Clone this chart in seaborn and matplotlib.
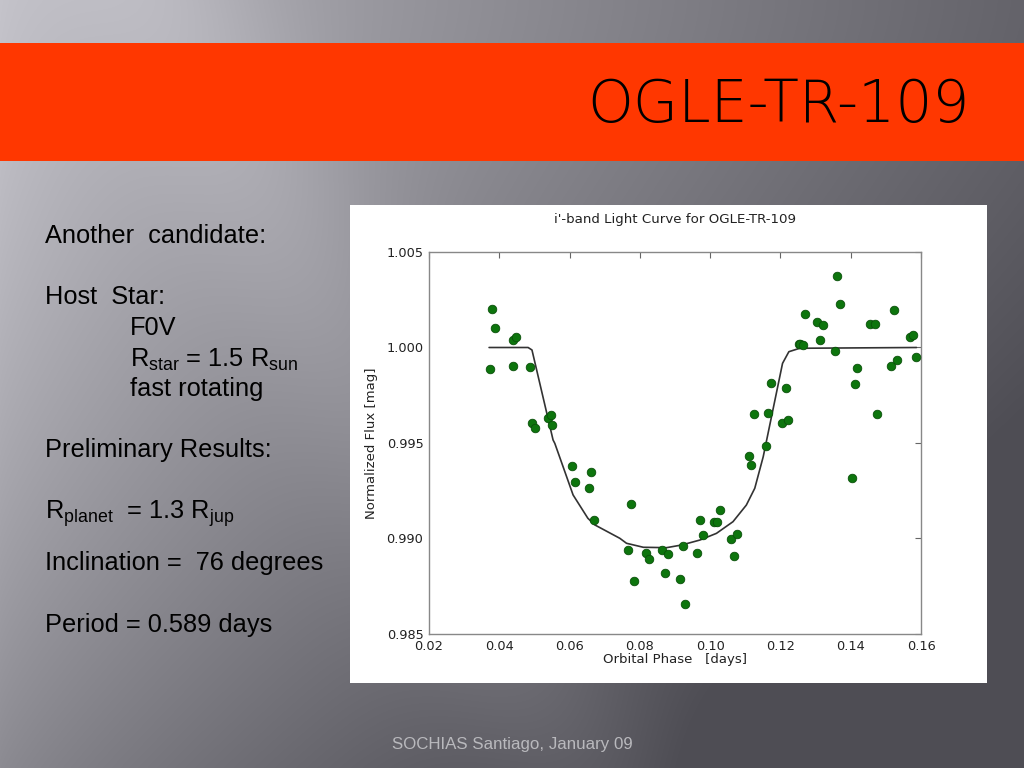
import numpy as np
import pandas as pd
import matplotlib
matplotlib.use('Agg')
import matplotlib.pyplot as plt
import seaborn as sns
from matplotlib.patches import Rectangle

# ---- data ----
phase = [0.0374, 0.0378, 0.0389, 0.0439, 0.0439, 0.0448, 0.0487, 0.0493, 0.0502,
         0.0539, 0.0547, 0.0550, 0.0607, 0.0615, 0.0661, 0.0655, 0.0669,
         0.0774, 0.0767, 0.0783, 0.0817, 0.0825, 0.0864, 0.0872, 0.0881, 0.0914,
         0.0922, 0.0929, 0.0962, 0.0971, 0.0979, 0.1012, 0.1019, 0.1028, 0.1060,
         0.1069, 0.1076, 0.1111, 0.1116, 0.1159,
         0.1125, 0.1166, 0.1173, 0.1216, 0.1205, 0.1222, 0.1253,
         0.1257, 0.1263, 0.1269, 0.1304, 0.1320, 0.1313, 0.1354, 0.1361, 0.1370,
         0.1418, 0.1411, 0.1404, 0.1475, 0.1456, 0.1469, 0.1524, 0.1514, 0.1532,
         0.1570, 0.1578, 0.1587]
flux = [0.99887, 1.00202, 1.00102, 0.99903, 1.00039, 1.00055, 0.99898, 0.99605, 0.99579,
        0.99631, 0.99647, 0.99594, 0.99380, 0.99296, 0.99348, 0.99264, 0.99097,
        0.99181, 0.98940, 0.98779, 0.98922, 0.98893, 0.98940, 0.98818, 0.98917, 0.98788,
        0.98961, 0.98656, 0.98926, 0.99097, 0.99017, 0.99085, 0.99085, 0.99148, 0.98997,
        0.98910, 0.99025, 0.99432, 0.99385, 0.99486,
        0.99652, 0.99657, 0.99814, 0.99786, 0.99603, 0.99622, 1.00020,
        1.00020, 1.00015, 1.00177, 1.00136, 1.00120, 1.00039, 0.99982, 1.00374, 1.00228,
        0.99894, 0.99810, 0.99317, 0.99652, 1.00123, 1.00123, 1.00198, 0.99903, 0.99933,
        1.00053, 1.00065, 0.99949]

model_phase = [0.0371, 0.0482, 0.0493, 0.0553, 0.0558, 0.0610, 0.0652, 0.0672, 0.0743,
               0.0762, 0.0810, 0.0876, 0.0919, 0.0971, 0.1018, 0.1065, 0.1103, 0.1127,
               0.1151, 0.1206, 0.1224, 0.1255, 0.1587]
model_flux = [1.0000, 1.0000, 0.99987, 0.99516, 0.99498, 0.99228, 0.99106, 0.99071, 0.99001,
              0.98975, 0.98954, 0.98952, 0.98966, 0.98992, 0.99027, 0.99088, 0.99175, 0.99263,
              0.99428, 0.99917, 0.99978, 0.99996, 1.0000]

x_ticks = [0.02, 0.04, 0.06, 0.08, 0.10, 0.12, 0.14, 0.16]
x_ticklabels = ['0.02', '0.04', '0.06', '0.08', '0.10', '0.12', '0.14', '0.16']
y_ticks = [0.985, 0.990, 0.995, 1.000, 1.005]
y_ticklabels = ['0.985', '0.990', '0.995', '1.000', '1.005']

slide_title = 'OGLE-TR-109'
chart_title = "i'-band Light Curve for OGLE-TR-109"
x_label = 'Orbital Phase   [days]'
y_label = 'Normalized Flux [mag]'
footer = 'SOCHIAS Santiago, January 09'

points = pd.DataFrame({'phase': phase, 'flux': flux})
model = pd.DataFrame({'phase': model_phase, 'flux': model_flux})

sns.set_theme(style='white')
plt.rcParams['font.family'] = ['DejaVu Sans']
plt.rcParams['mathtext.fontset'] = 'custom'
plt.rcParams['mathtext.rm'] = 'Liberation Sans'
plt.rcParams['mathtext.it'] = 'Liberation Sans:italic'

W, H = 1024, 768
fig = plt.figure(figsize=(W / 100, H / 100), dpi=100)

# ---- slide background ----
bg = fig.add_axes([0, 0, 1, 1])
yy, xx = np.mgrid[0:H, 0:W]
xn = xx / W
yn = yy / H
v = 195 - 95 * xn ** 0.8 - 55 * yn ** 1.5
streak = 14 * np.exp(-(((xx - 0.55 * yy) - 160) / 110.0) ** 2)
v = np.clip(v + streak, 78, 255)
img = np.dstack([v, v - 1, v + 6]) / 255.0
img = np.clip(img, 0, 1)
bg.imshow(img, extent=[0, 1, 0, 1], aspect='auto', origin='upper', interpolation='bilinear')
bg.set_xlim(0, 1)
bg.set_ylim(0, 1)
bg.axis('off')

bg.add_patch(Rectangle((0, 1 - 161 / H), 1, 118 / H, facecolor='#ff3700', edgecolor='none'))
bg.text(970 / W, 1 - 106 / H, slide_title, ha='right', va='center', fontsize=42,
        family='DejaVu Sans', weight='light', color='black')

# left text
lx, ix = 45 / W, 130 / W
fs = 18.3
txt = dict(fontsize=fs, family='Liberation Sans', color='black', va='center', ha='left')
bg.text(lx, 1 - 236 / H, 'Another  candidate:', **txt)
bg.text(lx, 1 - 297 / H, 'Host  Star:', **txt)
bg.text(ix, 1 - 328 / H, 'F0V', **txt)
bg.text(ix, 1 - 360 / H, r'R$_\mathrm{star}$ = 1.5 R$_\mathrm{sun}$', **txt)
bg.text(ix, 1 - 389 / H, 'fast rotating', **txt)
bg.text(lx, 1 - 450 / H, 'Preliminary Results:', **txt)
bg.text(lx, 1 - 514 / H, r'R$_\mathrm{planet}$  = 1.3 R$_\mathrm{jup}$', **txt)
bg.text(lx, 1 - 563 / H, 'Inclination =  76 degrees', **txt)
bg.text(lx, 1 - 625 / H, 'Period = 0.589 days', **txt)

bg.text(512 / W, 1 - 745 / H, footer, ha='center', va='center', fontsize=12.2,
        family='Liberation Sans', color='#b9b9bd')

# white chart panel
bg.add_patch(Rectangle((350 / W, 1 - 683 / H), 637 / W, 478 / H, facecolor='white', edgecolor='none'))

# ---- chart ----
ax = fig.add_axes([429 / W, 1 - 634 / H, 492 / W, 382 / H])
ax.set_facecolor('white')
sns.lineplot(data=model, x='phase', y='flux', ax=ax, color='#333333', linewidth=1.2,
             estimator=None, sort=False)
sns.scatterplot(data=points, x='phase', y='flux', ax=ax, color='#0d750d', edgecolor='#0a4f0a',
                linewidth=0.6, s=38, zorder=3)

ax.set_xlim(0.02, 0.16)
ax.set_ylim(0.985, 1.005)
ax.set_xticks(x_ticks)
ax.set_xticklabels(x_ticklabels)
ax.set_yticks(y_ticks)
ax.set_yticklabels(y_ticklabels)
ax.tick_params(direction='in', length=4, width=0.8, color='#666666', labelsize=9.3,
               labelcolor='#222222', top=True, right=True)
ax.tick_params(axis='x', pad=4)
ax.tick_params(axis='y', pad=4)
for s in ax.spines.values():
    s.set_color('#888888')
    s.set_linewidth(1.0)
ax.set_xlabel(x_label, fontsize=9.5, color='#222222', labelpad=0)
ax.set_ylabel(y_label, fontsize=9.5, color='#222222', labelpad=6)
ax.set_title(chart_title, fontsize=9.6, color='#222222', pad=21)

fig.savefig('out.png', dpi=100)
